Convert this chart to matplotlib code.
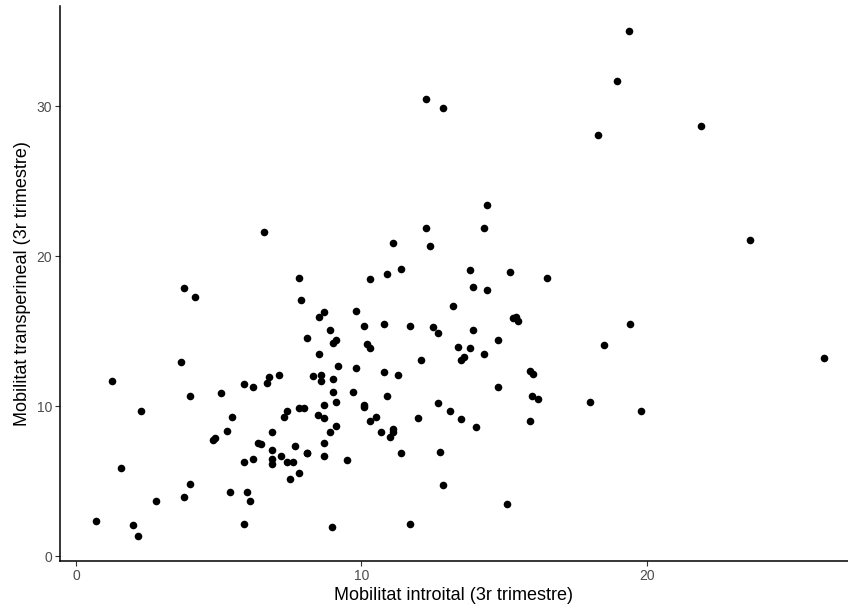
import numpy as np
import matplotlib
matplotlib.use("Agg")
import matplotlib.pyplot as plt

# Mobilitat introital vs transperineal (3r trimestre)
introital = [
    0.69, 1.27, 1.58, 1.99, 2.19, 2.28, 2.79, 3.68, 3.79, 3.79, 4.0, 4.0, 4.18,
    4.79, 4.88, 5.09, 5.28, 5.38, 5.48, 5.88, 5.88, 5.88, 5.98, 6.09, 6.19, 6.19,
    6.38, 6.49, 6.6, 6.69, 6.78, 6.88, 6.88, 6.88, 6.88, 7.1, 7.19,
    7.3, 7.39, 7.39, 7.49, 7.59, 7.69, 7.8, 7.8, 7.8, 7.9, 7.99, 8.08, 8.08, 8.08,
    8.29, 8.49, 8.5, 8.5, 8.6, 8.6, 8.69, 8.69, 8.69, 8.69, 8.69, 8.9, 8.9, 8.98,
    9.0, 9.0, 9.0, 9.1, 9.1, 9.1, 9.19, 9.49, 9.7, 9.8, 9.8,
    10.1, 10.1, 10.1, 10.2, 10.29, 10.29, 10.29, 10.5, 10.7, 10.8, 10.8, 10.9, 10.9,
    11.0, 11.1, 11.1, 11.1, 11.3, 11.4, 11.4, 11.69, 11.7, 12.0, 12.1, 12.27, 12.28,
    12.4, 12.5, 12.7, 12.7, 12.77, 12.87, 12.87, 13.1, 13.2, 13.4, 13.48, 13.5,
    13.58, 13.8, 13.8, 13.9, 13.9, 14.0, 14.3, 14.3, 14.39, 14.39, 14.8, 14.8,
    15.1, 15.2, 15.3, 15.4, 15.5, 15.9, 15.9, 15.99, 16.0, 16.2, 16.5, 18.0,
    18.28, 18.5, 18.96, 19.37, 19.4, 19.8, 21.9, 23.6, 26.2,
]
transperineal = [
    2.35, 11.67, 5.87, 2.05, 1.35, 9.67, 3.67, 12.96, 17.9, 3.96, 10.67, 4.78, 17.27,
    7.76, 7.87, 10.87, 8.36, 4.27, 9.27, 11.45, 6.27, 2.15, 4.27, 3.67, 11.27, 6.47,
    7.55, 7.47, 21.6, 11.56, 11.96, 8.25, 7.07, 6.47, 6.13, 12.05, 6.69,
    9.25, 9.67, 6.27, 5.15, 6.27, 7.35, 18.55, 9.87, 5.55, 17.07, 9.87, 14.58, 6.85, 6.85,
    11.98, 9.4, 15.96, 13.47, 12.1, 11.65, 16.27, 10.07, 9.18, 7.55, 6.67, 15.07, 8.27, 1.96,
    14.2, 11.78, 10.96, 14.4, 10.27, 8.67, 12.67, 6.38, 10.96, 16.38, 12.58,
    15.38, 10.09, 9.96, 14.18, 18.47, 13.87, 8.98, 9.29, 8.27, 15.47, 12.27, 18.8, 10.67,
    7.96, 20.9, 8.49, 8.25, 12.07, 19.15, 6.85, 2.15, 15.38, 9.18, 13.07, 21.87, 30.47,
    20.7, 15.27, 14.87, 10.18, 6.96, 29.87, 4.76, 9.67, 16.67, 13.98, 13.07, 9.15,
    13.29, 19.07, 13.89, 17.98, 15.09, 8.58, 21.87, 13.47, 23.4, 17.75, 14.4, 11.27,
    3.47, 18.98, 15.87, 15.98, 15.65, 12.38, 8.98, 10.67, 12.18, 10.47, 18.58, 10.27,
    28.07, 14.07, 31.67, 35.0, 15.47, 9.67, 28.67, 21.07, 13.2,
]

x_label = "Mobilitat introital (3r trimestre)"
y_label = "Mobilitat transperineal (3r trimestre)"

plt.rcParams['font.family'] = ['Liberation Sans', 'DejaVu Sans']

fig = plt.figure(figsize=(8.48, 6.09), dpi=100)
ax = fig.add_axes([60 / 848, 1 - 561 / 609, (848 - 60) / 848, (561 - 6) / 609])

ax.scatter(introital, transperineal, s=30, color='black', linewidths=0, zorder=3)

ax.set_xlim(-0.56, 27.05)
ax.set_ylim(-0.33, 36.7)
ax.set_xticks([0, 10, 20])
ax.set_yticks([0, 10, 20, 30])

for side in ['top', 'right']:
    ax.spines[side].set_visible(False)
for side in ['left', 'bottom']:
    ax.spines[side].set_linewidth(1.1)
    ax.spines[side].set_color('black')

ax.tick_params(axis='both', colors='#333333', labelcolor='#4D4D4D', labelsize=10,
               length=3.5, width=0.8, pad=2)
ax.set_xlabel(x_label, fontsize=13, color='black', labelpad=3)
ax.set_ylabel(y_label, fontsize=13, color='black', labelpad=4)

fig.savefig('out.png', dpi=100)
